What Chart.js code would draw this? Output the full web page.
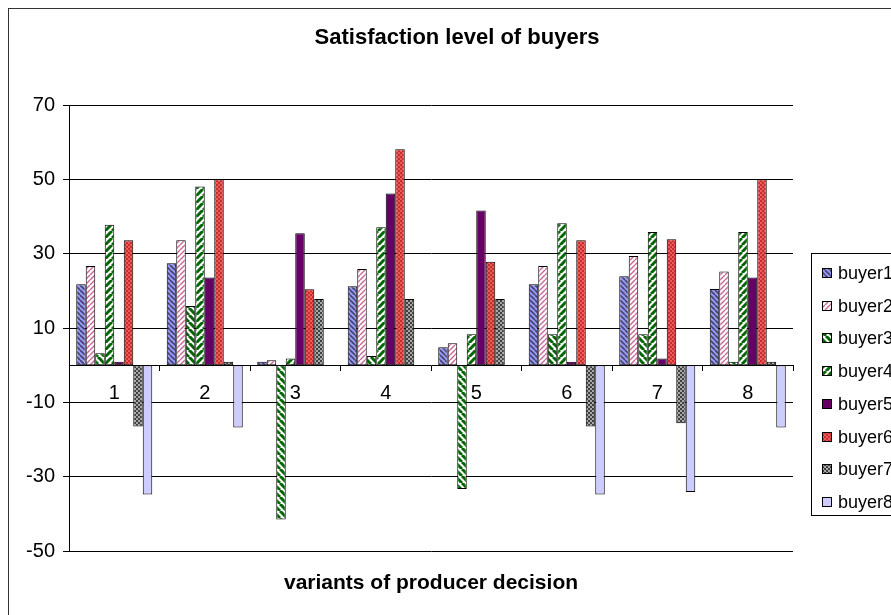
<!DOCTYPE html>
<html>
<head>
<meta charset="utf-8">
<script src="https://cdn.jsdelivr.net/npm/chart.js@4.4.0/dist/chart.umd.min.js"></script>
<style>
  html, body { margin: 0; padding: 0; background: #fff; overflow: hidden; }
  /* the original chart is wider than the picture and gets cut on the right */
  #wrap { width: 891px; height: 615px; overflow: hidden; }
</style>
</head>
<body>
<div id="wrap"><canvas id="myChart" width="906" height="615"></canvas></div>
<script>
// values, one array per buyer
var categories = ['1', '2', '3', '4', '5', '6', '7', '8'];
var buyer1 = [21.8, 27.4, 0.9, 21.2, 4.8, 21.8, 23.9, 20.5];
var buyer2 = [26.7, 33.6, 1.3, 25.9, 5.9, 26.7, 29.4, 25.2];
var buyer3 = [3.2, 15.9, -41.5, 2.5, -33.3, 8.3, 8.3, 0.9];
var buyer4 = [37.8, 48.1, 1.8, 37.1, 8.3, 38.2, 35.8, 35.8];
var buyer5 = [0.9, 23.6, 35.5, 46.2, 41.6, 0.9, 1.8, 23.6];
var buyer6 = [33.6, 50.0, 20.4, 58.1, 27.8, 33.6, 33.9, 50.0];
var buyer7 = [-16.5, 0.9, 17.8, 17.8, 17.8, -16.5, -15.6, 0.9];
var buyer8 = [-34.8, -16.8, 0, 0, 0, -34.8, -34.1, -16.8];
var yTicks = [-50, -30, -10, 10, 30, 50, 70];

var FONT = '"Liberation Sans", Arial, sans-serif';

function stripes(bg, fg, size, lw, dir) {
    var c = document.createElement('canvas');
    c.width = size; c.height = size;
    var g = c.getContext('2d');
    g.fillStyle = bg;
    g.fillRect(0, 0, size, size);
    g.strokeStyle = fg;
    g.lineWidth = lw;
    for (var k = -size; k <= size; k += size) {
        g.beginPath();
        if (dir === '\\') { g.moveTo(k, 0); g.lineTo(k + size, size); }
        else { g.moveTo(k, size); g.lineTo(k + size, 0); }
        g.stroke();
    }
    return g.createPattern(c, 'repeat');
}

function checker(bg, fg, size) {
    var c = document.createElement('canvas');
    c.width = size * 2; c.height = size * 2;
    var g = c.getContext('2d');
    g.fillStyle = bg;
    g.fillRect(0, 0, size * 2, size * 2);
    g.fillStyle = fg;
    g.fillRect(0, 0, size, size);
    g.fillRect(size, size, size, size);
    return g.createPattern(c, 'repeat');
}

var fills = [
    stripes('#9999FF', '#444466', 5, 1.6, '\\'),
    stripes('#FFFFFF', '#CC6699', 5, 1.4, '/'),
    stripes('#FFFFFF', '#006600', 7, 3, '\\'),
    stripes('#FFFFFF', '#006600', 7, 3, '/'),
    '#660066',
    checker('#F25A5A', '#C03030', 2),
    checker('#A8A8A8', '#404040', 2),
    '#CCCCFF'
];

var allSeries = [buyer1, buyer2, buyer3, buyer4, buyer5, buyer6, buyer7, buyer8];
var datasets = allSeries.map(function (vals, i) {
    return {
        label: 'buyer' + (i + 1),
        data: vals,
        backgroundColor: fills[i],
        borderColor: '#000',
        borderWidth: 1,
        borderSkipped: false,
        barPercentage: 1.0,
        categoryPercentage: 0.84
    };
});

// chart frame + legend box
var frameAndLegend = {
    id: 'frameAndLegend',
    afterDraw: function (chart) {
        var ctx = chart.ctx;
        var left = chart.chartArea.right + 18;
        ctx.save();
        ctx.strokeStyle = '#333';
        ctx.lineWidth = 1;
        ctx.strokeRect(8.5, 8.5, 1000, 1000);
        ctx.strokeStyle = '#000';
        ctx.strokeRect(left + 0.5, 253.5, 120, 262);
        ctx.font = '18px ' + FONT;
        ctx.textBaseline = 'middle';
        chart.data.datasets.forEach(function (ds, i) {
            var y = Math.round(273 + i * 32.7);
            ctx.fillStyle = ds.backgroundColor;
            ctx.fillRect(left + 11, y - 5, 10, 10);
            ctx.strokeRect(left + 11.5, y - 4.5, 9, 9);
            ctx.fillStyle = '#000';
            ctx.fillText(ds.label, left + 27, y + 1);
        });
        ctx.restore();
    }
};

var ctxChart = document.getElementById('myChart').getContext('2d');
var myChart = new Chart(ctxChart, {
    type: 'bar',
    data: { labels: categories, datasets: datasets },
    plugins: [frameAndLegend],
    options: {
        responsive: false,
        animation: false,
        layout: { padding: { left: 8, right: 0, top: 0, bottom: 0 } },
        plugins: {
            legend: { display: false },
            tooltip: { enabled: false },
            title: {
                display: true,
                text: 'Satisfaction level of buyers',
                color: '#000',
                font: { family: FONT, size: 22, weight: 'bold' },
                padding: { top: 25, bottom: 53.6 }
            },
            subtitle: {
                display: true,
                position: 'bottom',
                fullSize: false,
                text: 'variants of producer decision',
                color: '#000',
                font: { family: FONT, size: 21, weight: 'bold' },
                padding: { top: 19.8, bottom: 19 }
            }
        },
        scales: {
            x: {
                position: { y: 0 },
                grid: { display: true, drawOnChartArea: false, drawTicks: true, tickLength: 5, color: '#000', offset: true },
                border: { display: true, color: '#000' },
                ticks: { color: '#000', font: { family: FONT, size: 20 }, padding: 11 }
            },
            y: {
                min: -50,
                max: 70,
                afterBuildTicks: function (scale) {
                    scale.ticks = yTicks.map(function (v) { return { value: v }; });
                },
                afterFit: function (scale) { scale.width = 61; },
                grid: { color: '#000', lineWidth: 1, tickLength: 6 },
                border: { display: true, color: '#000' },
                ticks: { color: '#000', font: { family: FONT, size: 20 }, padding: 8 }
            },
            // empty axis on the right only to keep room for the legend
            legendRoom: {
                type: 'linear',
                position: 'right',
                grid: { display: false, drawTicks: false },
                border: { display: false },
                ticks: { display: false },
                afterFit: function (scale) { scale.width = 113; }
            }
        }
    }
});
</script>
</body>
</html>
